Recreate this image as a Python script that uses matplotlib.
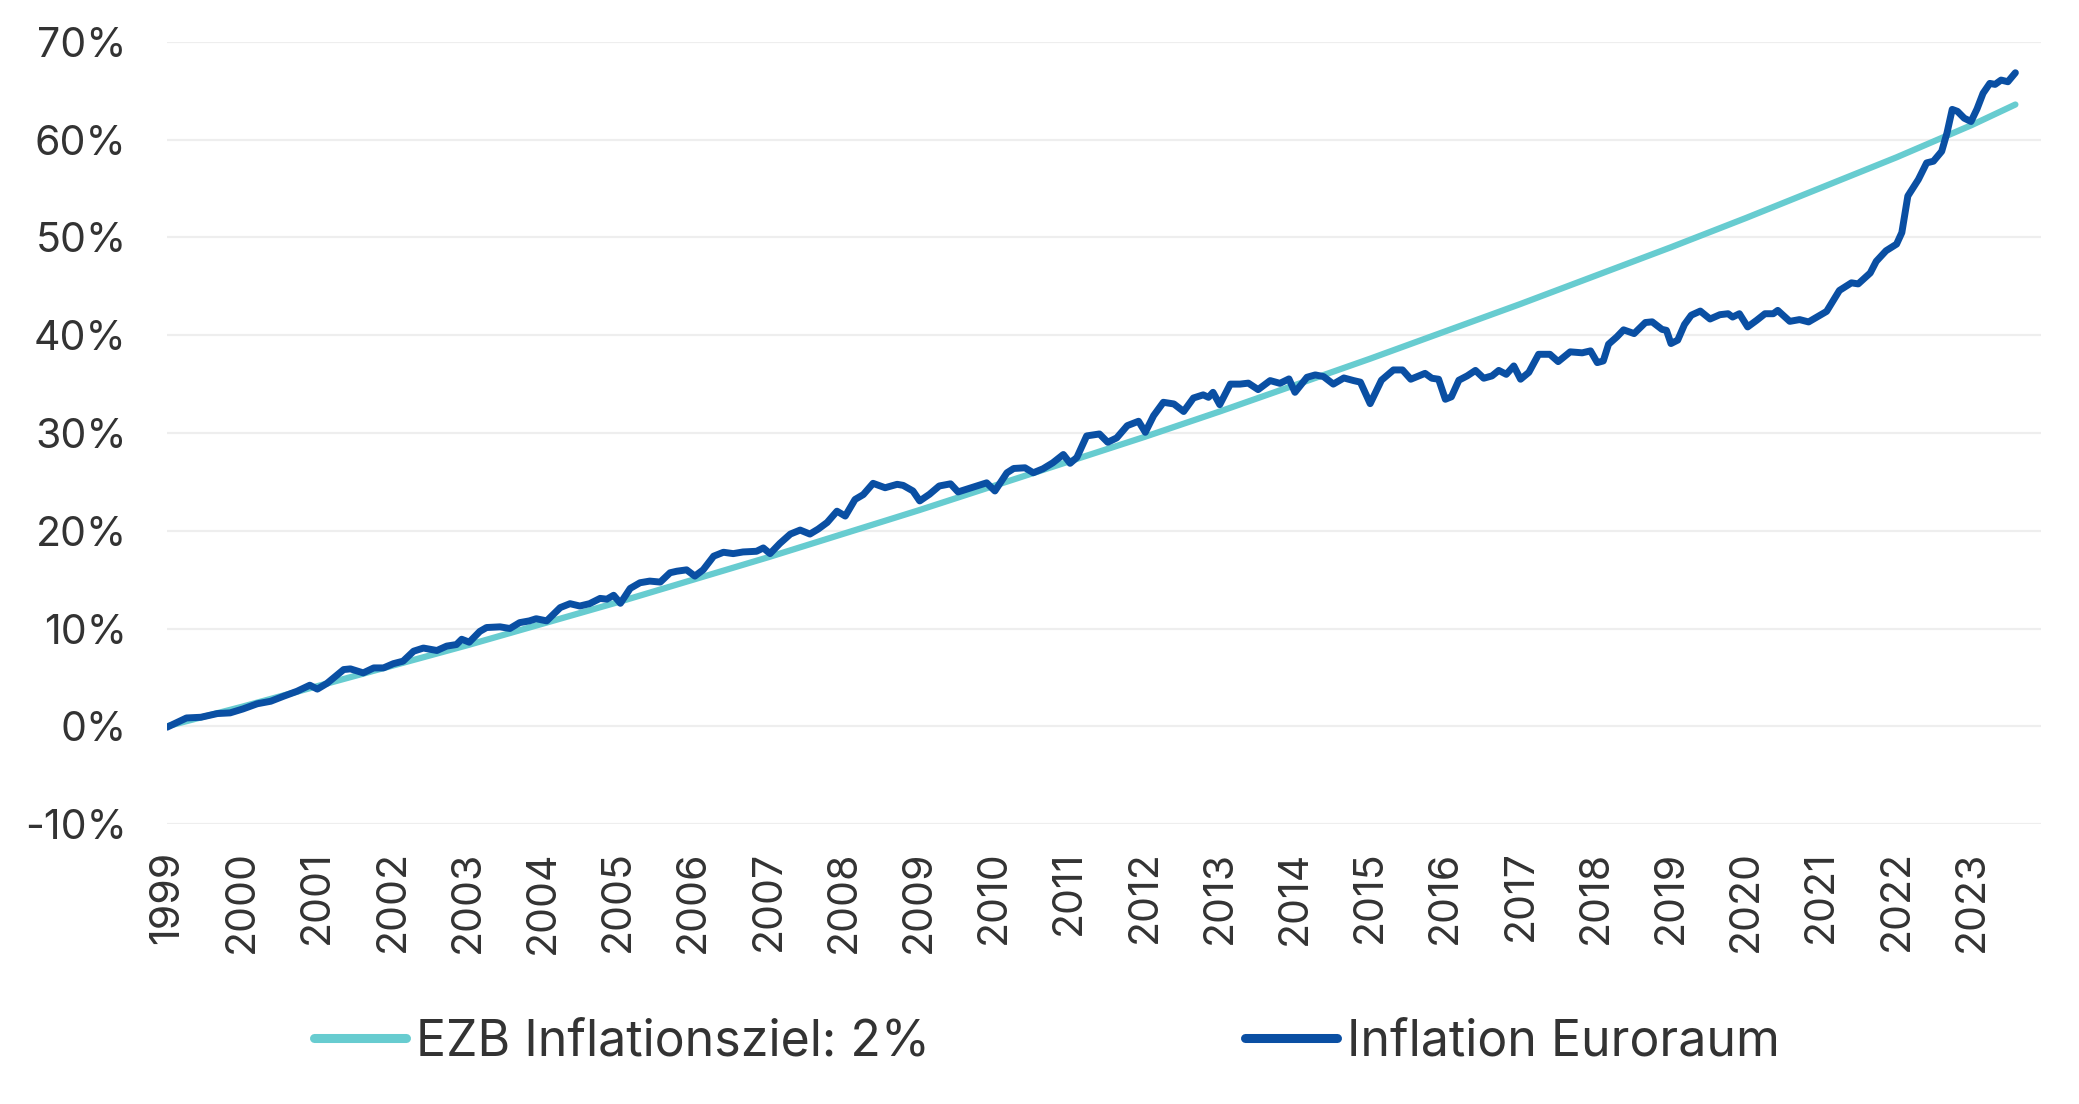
import matplotlib
matplotlib.use("Agg")
import matplotlib.pyplot as plt

# EZB target path (cumulative, %), read at each year label
target_years = [1999, 2000, 2001, 2002, 2003, 2004, 2005, 2006, 2007, 2008, 2009, 2010,
                2011, 2012, 2013, 2014, 2015, 2016, 2017, 2018, 2019, 2020, 2021, 2022,
                2023, 2023.58]
target_values = [0.0, 2.0, 4.1, 6.2, 8.3, 10.5, 12.7, 15.0, 17.3, 19.7, 22.1, 24.6,
                 27.1, 29.6, 32.2, 34.9, 37.6, 40.4, 43.2, 46.1, 49.0, 52.0, 55.1, 58.2,
                 61.5, 63.6]

# Euro area inflation (cumulative since Jan 1999, %)
# infl_t = years after Jan 1999
infl_t = [0.00, 0.26, 0.45, 0.67, 0.84, 1.01, 1.20, 1.38, 1.55, 1.73, 1.90, 2.00, 2.13,
          2.35, 2.44, 2.61, 2.75, 2.88, 3.01, 3.14, 3.28, 3.41, 3.59, 3.72, 3.85, 3.92,
          4.02, 4.16, 4.25, 4.43, 4.56, 4.69, 4.82, 4.91, 5.05, 5.23, 5.36, 5.49, 5.62,
          5.76, 5.85, 5.94, 6.03, 6.16, 6.29, 6.42, 6.56, 6.69, 6.78, 6.91, 7.02, 7.13,
          7.27, 7.40, 7.53, 7.66, 7.84, 7.93, 8.02, 8.15, 8.29, 8.42, 8.55, 8.66, 8.78,
          8.91, 9.02, 9.15, 9.26, 9.39, 9.55, 9.71, 9.79, 9.92, 10.01, 10.14, 10.27, 10.42,
          10.52, 10.63, 10.77, 10.90, 11.01, 11.17, 11.26, 11.41, 11.52, 11.65, 11.78,
          11.92, 12.01, 12.10, 12.23, 12.40, 12.51, 12.63, 12.77, 12.92, 13.01, 13.12,
          13.25, 13.39, 13.52, 13.65, 13.78, 13.85, 13.91, 14.00, 14.14, 14.27, 14.38,
          14.51, 14.67, 14.80, 14.92, 15.00, 15.16, 15.27, 15.38, 15.51, 15.65, 15.78,
          15.87, 16.00, 16.15, 16.31, 16.43, 16.54, 16.73, 16.82, 16.91, 17.00, 17.08,
          17.18, 17.29, 17.40, 17.51, 17.62, 17.71, 17.81, 17.91, 18.00, 18.11, 18.24,
          18.39, 18.50, 18.66, 18.82, 18.93, 19.02, 19.10, 19.17, 19.28, 19.37, 19.51,
          19.66, 19.75, 19.88, 19.94, 20.00, 20.09, 20.18, 20.27, 20.39, 20.52, 20.65,
          20.76, 20.82, 20.91, 21.02, 21.14, 21.25, 21.36, 21.42, 21.58, 21.71, 21.83,
          21.94, 22.07, 22.24, 22.40, 22.49, 22.65, 22.73, 22.86, 23.00, 23.07, 23.15,
          23.29, 23.40, 23.49, 23.60, 23.67, 23.74, 23.81, 23.90, 23.99, 24.07, 24.15,
          24.24, 24.31, 24.39, 24.48, 24.58]
infl_values = [-0.1, 0.85, 0.92, 1.3, 1.37, 1.77, 2.3, 2.56, 3.07, 3.58, 4.2, 3.8, 4.4,
               5.8, 5.87, 5.46, 5.97, 5.97, 6.4, 6.66, 7.68, 8.0, 7.75, 8.2, 8.36, 8.9,
               8.6, 9.7, 10.1, 10.17, 10.0, 10.6, 10.78, 11.0, 10.78, 12.14, 12.54, 12.3, 12.54,
               13.08, 13.0, 13.4, 12.58, 14.1, 14.68, 14.85, 14.75, 15.7, 15.86, 16.0, 15.36, 16.0,
               17.4, 17.8, 17.66, 17.83, 17.9, 18.24, 17.66, 18.7, 19.66, 20.07, 19.66, 20.17, 20.85,
               22.0, 21.5, 23.2, 23.7, 24.85, 24.4, 24.75, 24.64, 24.07, 23.05, 23.73, 24.58, 24.8,
               23.97, 24.24, 24.58, 24.9, 24.07, 25.93, 26.37, 26.44, 25.93, 26.34, 26.95,
               27.8, 26.9, 27.5, 29.7, 29.9, 29.05, 29.5, 30.75, 31.2, 30.07, 31.77,
               33.14, 32.97, 32.2, 33.58, 33.9, 33.65, 34.16, 32.9, 35.0, 35.0, 35.1,
               34.44, 35.36, 35.08, 35.53, 34.16, 35.7, 35.94, 35.77, 35.0, 35.63, 35.36,
               35.2, 33.0, 35.4, 36.45, 36.45, 35.5, 36.1, 35.6, 35.5, 33.45, 33.7,
               35.4, 35.84, 36.4, 35.6, 35.84, 36.4, 36.0, 36.86, 35.5, 36.2, 38.05,
               38.05, 37.3, 38.3, 38.2, 38.4, 37.2, 37.37, 39.08, 39.83, 40.55, 40.17,
               41.3, 41.37, 40.6, 40.5, 39.15, 39.5, 41.1, 42.05, 42.47, 41.66, 42.1,
               42.2, 41.86, 42.2, 40.85, 41.53, 42.2, 42.2, 42.54, 41.42, 41.6, 41.36,
               41.86, 42.44, 44.58, 45.36, 45.25, 46.37, 47.56, 48.64, 49.32, 50.5, 54.24,
               55.93, 57.63, 57.8, 58.81, 60.68, 63.1, 62.9, 62.2, 61.86, 63.15, 64.75,
               65.76, 65.66, 66.1, 65.93, 66.85]

year_labels = [str(y) for y in range(1999, 2024)]
y_ticks = [-10, 0, 10, 20, 30, 40, 50, 60, 70]

TEAL = "#67CCD0"
BLUE = "#0A4FA3"
TEXT = "#333333"

plt.rcParams["font.family"] = ["Inter", "DejaVu Sans"]

fig = plt.figure(figsize=(20.79, 11.04), dpi=100)
ax = fig.add_axes([0.0803, 0.2536, 0.9014, 0.7084])

infl_x = [1999 + t for t in infl_t]
ax.plot(target_years, target_values, color=TEAL, lw=4.5, solid_capstyle="round",
        label="EZB Inflationsziel: 2%", zorder=3)
ax.plot(infl_x, infl_values, color=BLUE, lw=5.0, solid_capstyle="round",
        solid_joinstyle="round", label="Inflation Euroraum", zorder=4)

ax.set_xlim(1999, 2023.92)
ax.set_ylim(-10, 70)
ax.set_yticks(y_ticks)
ax.set_yticklabels([f"{v}%" for v in y_ticks])
ax.set_xticks(range(1999, 2024))
ax.set_xticklabels(year_labels, rotation=90)

ax.grid(axis="y", color="#EEEEEE", lw=1.6)
ax.set_axisbelow(True)
for s in ax.spines.values():
    s.set_visible(False)
ax.tick_params(axis="both", length=0, labelsize=29.5, colors=TEXT)
ax.tick_params(axis="y", pad=29)
ax.tick_params(axis="x", pad=19)

leg = fig.legend(loc="center", bbox_to_anchor=(0.5036, 0.056), ncol=2, frameon=False,
                 fontsize=36, handlelength=1.84, handletextpad=0.2, columnspacing=6.3,
                 labelcolor=TEXT)
for line in leg.get_lines():
    line.set_linewidth(6.5)
    line.set_solid_capstyle("round")

fig.savefig("out.png", dpi=100)
